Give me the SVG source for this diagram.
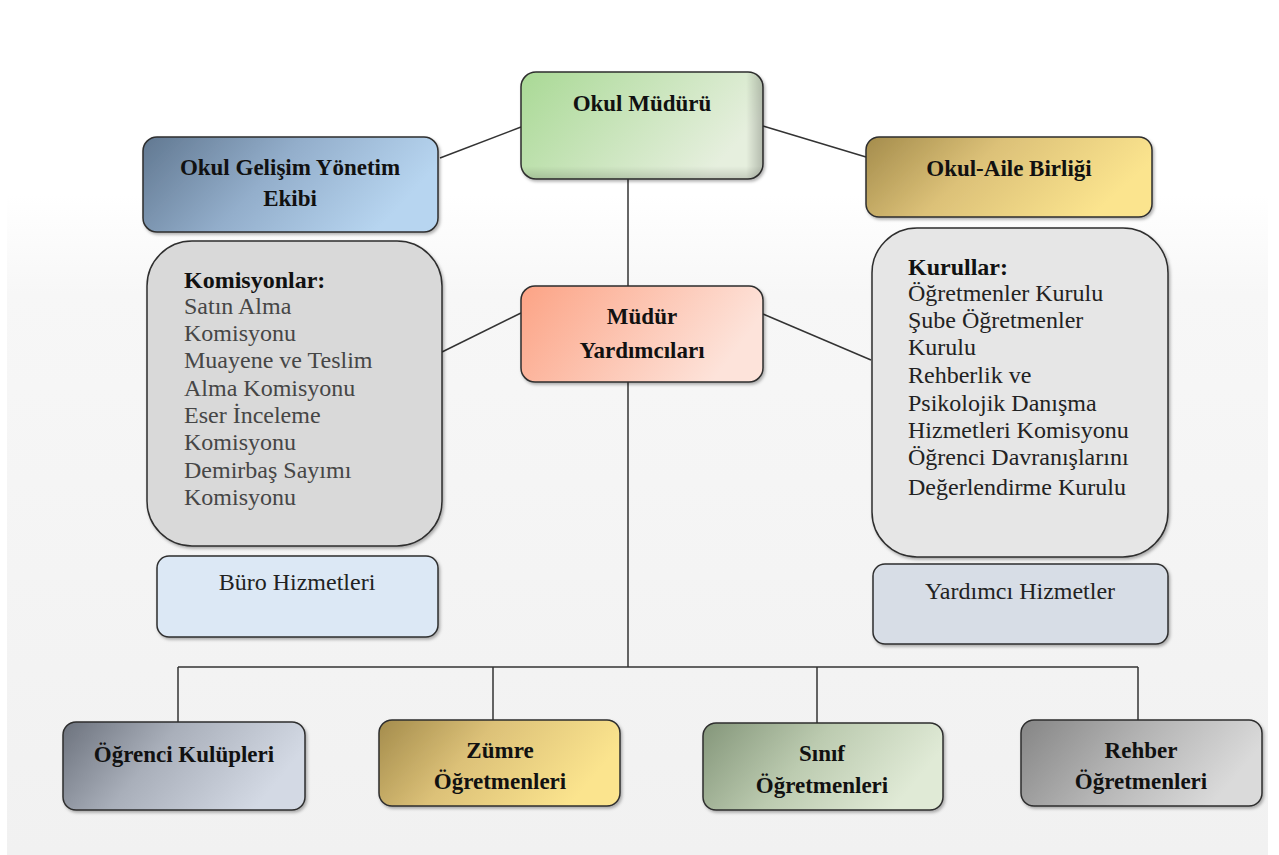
<svg xmlns="http://www.w3.org/2000/svg" width="1279" height="855" viewBox="0 0 1279 855">
<defs>
<linearGradient id="bg" x1="0" y1="0" x2="0" y2="1">
<stop offset="0" stop-color="#ffffff"/>
<stop offset="0.15" stop-color="#f7f7f7"/>
<stop offset="1" stop-color="#f1f1f1"/>
</linearGradient>
<linearGradient id="gGreen" x1="0" y1="0" x2="1" y2="0.4">
<stop offset="0" stop-color="#a9d995"/>
<stop offset="1" stop-color="#e6efde"/>
</linearGradient>
<linearGradient id="gBlue" x1="0" y1="0" x2="1" y2="0.3">
<stop offset="0" stop-color="#617891"/>
<stop offset="0.5" stop-color="#93aecb"/>
<stop offset="1" stop-color="#b7d5f0"/>
</linearGradient>
<linearGradient id="gGold" x1="0" y1="0" x2="1" y2="0.3">
<stop offset="0" stop-color="#a48c4c"/>
<stop offset="0.45" stop-color="#dcc178"/>
<stop offset="1" stop-color="#fbe48e"/>
</linearGradient>
<linearGradient id="gSalmon" x1="0" y1="0" x2="1" y2="0.3">
<stop offset="0" stop-color="#fca385"/>
<stop offset="1" stop-color="#fde3da"/>
</linearGradient>
<linearGradient id="gSlate" x1="0" y1="0" x2="1" y2="0.3">
<stop offset="0" stop-color="#6c727d"/>
<stop offset="0.45" stop-color="#a9afba"/>
<stop offset="1" stop-color="#d3d9e4"/>
</linearGradient>
<linearGradient id="gSage" x1="0" y1="0" x2="1" y2="0.3">
<stop offset="0" stop-color="#84967a"/>
<stop offset="0.5" stop-color="#bccbb0"/>
<stop offset="1" stop-color="#e0ead6"/>
</linearGradient>
<linearGradient id="gGray" x1="0" y1="0" x2="1" y2="0.3">
<stop offset="0" stop-color="#858585"/>
<stop offset="0.5" stop-color="#b3b3b3"/>
<stop offset="1" stop-color="#dadada"/>
</linearGradient>
<linearGradient id="gEdge" x1="0" y1="0" x2="1" y2="0">
<stop offset="0.93" stop-color="#000" stop-opacity="0"/>
<stop offset="1" stop-color="#000" stop-opacity="0.22"/>
</linearGradient>
<linearGradient id="gEdgeB" x1="0" y1="0" x2="0" y2="1">
<stop offset="0.88" stop-color="#000" stop-opacity="0"/>
<stop offset="1" stop-color="#000" stop-opacity="0.15"/>
</linearGradient>
<filter id="sh" x="-5%" y="-5%" width="115%" height="120%">
<feDropShadow dx="1.5" dy="2" stdDeviation="1.5" flood-color="#000" flood-opacity="0.3"/>
</filter>
</defs>
<style>
.box{stroke:#2e2e2e;stroke-width:1.5;filter:url(#sh)}
.t{font-family:"Liberation Serif","Times New Roman",serif;font-weight:bold;font-size:23px;fill:#111;text-anchor:middle}
.r{font-family:"Liberation Serif","Times New Roman",serif;font-size:24px}
.hd{font-weight:bold;fill:#111}
.k{fill:#464646}
.ku{fill:#222}
.c{text-anchor:middle;fill:#222}
.ln{stroke:#333;stroke-width:1.5;fill:none}
</style>
<rect x="0" y="0" width="1279" height="855" fill="#ffffff"/>
<rect x="7" y="195" width="1261" height="660" fill="url(#bg)"/>

<g id="connectors">
<line class="ln" x1="521" y1="127" x2="440" y2="158"/>
<line class="ln" x1="763" y1="126" x2="866" y2="157"/>
<line class="ln" x1="628" y1="179" x2="628" y2="286"/>
<line class="ln" x1="521" y1="313" x2="442" y2="352"/>
<line class="ln" x1="763" y1="314" x2="871" y2="360"/>
<line class="ln" x1="628" y1="382" x2="628" y2="667"/>
<line class="ln" x1="178" y1="667" x2="1138" y2="667"/>
<line class="ln" x1="178" y1="667" x2="178" y2="722"/>
<line class="ln" x1="493" y1="667" x2="493" y2="720"/>
<line class="ln" x1="817" y1="667" x2="817" y2="723"/>
<line class="ln" x1="1138" y1="667" x2="1138" y2="720"/>
</g>

<g id="okul-muduru">
<rect class="box" x="521" y="72" width="242" height="107" rx="15" fill="url(#gGreen)"/>
<rect x="521" y="72" width="242" height="107" rx="15" fill="url(#gEdge)"/>
<rect x="521" y="72" width="242" height="107" rx="15" fill="url(#gEdgeB)"/>
<text class="t" x="642" y="111">Okul Müdürü</text>
</g>

<g id="okul-gelisim">
<rect class="box" x="143" y="137" width="295" height="95" rx="14" fill="url(#gBlue)"/>
<text class="t" x="290" y="175">Okul Gelişim Yönetim</text>
<text class="t" x="290" y="206">Ekibi</text>
</g>

<g id="okul-aile">
<rect class="box" x="866" y="137" width="286" height="80" rx="13" fill="url(#gGold)"/>
<text class="t" x="1009" y="176">Okul-Aile Birliği</text>
</g>

<g id="komisyonlar">
<rect class="box" x="147" y="241" width="295" height="305" rx="45" fill="#d9d9d9"/>
<text class="r hd" x="184" y="288">Komisyonlar:</text>
<text class="r k" x="184" y="314">Satın Alma</text>
<text class="r k" x="184" y="341">Komisyonu</text>
<text class="r k" x="184" y="368">Muayene ve Teslim</text>
<text class="r k" x="184" y="396">Alma Komisyonu</text>
<text class="r k" x="184" y="423">Eser İnceleme</text>
<text class="r k" x="184" y="450">Komisyonu</text>
<text class="r k" x="184" y="478">Demirbaş Sayımı</text>
<text class="r k" x="184" y="505">Komisyonu</text>
</g>

<g id="buro">
<rect class="box" x="157" y="556" width="281" height="81" rx="12" fill="#dce8f5"/>
<text class="r c" x="297" y="590">Büro Hizmetleri</text>
</g>

<g id="mudur-yardimcilari">
<rect class="box" x="521" y="286" width="242" height="96" rx="14" fill="url(#gSalmon)"/>
<text class="t" x="642" y="324">Müdür</text>
<text class="t" x="642" y="358">Yardımcıları</text>
</g>

<g id="kurullar">
<rect class="box" x="872" y="228" width="296" height="329" rx="45" fill="#e6e6e6"/>
<text class="r hd" x="908" y="275">Kurullar:</text>
<text class="r ku" x="908" y="301">Öğretmenler Kurulu</text>
<text class="r ku" x="908" y="328">Şube Öğretmenler</text>
<text class="r ku" x="908" y="355">Kurulu</text>
<text class="r ku" x="908" y="383">Rehberlik ve</text>
<text class="r ku" x="908" y="411">Psikolojik Danışma</text>
<text class="r ku" x="908" y="438">Hizmetleri Komisyonu</text>
<text class="r ku" x="908" y="465">Öğrenci Davranışlarını</text>
<text class="r ku" x="908" y="495">Değerlendirme Kurulu</text>
</g>

<g id="yardimci">
<rect class="box" x="873" y="564" width="295" height="80" rx="12" fill="#d7dde6"/>
<text class="r c" x="1020" y="599">Yardımcı Hizmetler</text>
</g>

<g id="ogrenci-kulupleri">
<rect class="box" x="63" y="722" width="242" height="88" rx="13" fill="url(#gSlate)"/>
<text class="t" x="184" y="762">Öğrenci Kulüpleri</text>
</g>

<g id="zumre">
<rect class="box" x="379" y="720" width="241" height="86" rx="13" fill="url(#gGold)"/>
<text class="t" x="500" y="758">Zümre</text>
<text class="t" x="500" y="789">Öğretmenleri</text>
</g>

<g id="sinif">
<rect class="box" x="703" y="723" width="240" height="87" rx="13" fill="url(#gSage)"/>
<text class="t" x="822" y="761">Sınıf</text>
<text class="t" x="822" y="793">Öğretmenleri</text>
</g>

<g id="rehber">
<rect class="box" x="1021" y="720" width="241" height="86" rx="13" fill="url(#gGray)"/>
<text class="t" x="1141" y="758">Rehber</text>
<text class="t" x="1141" y="789">Öğretmenleri</text>
</g>
</svg>
